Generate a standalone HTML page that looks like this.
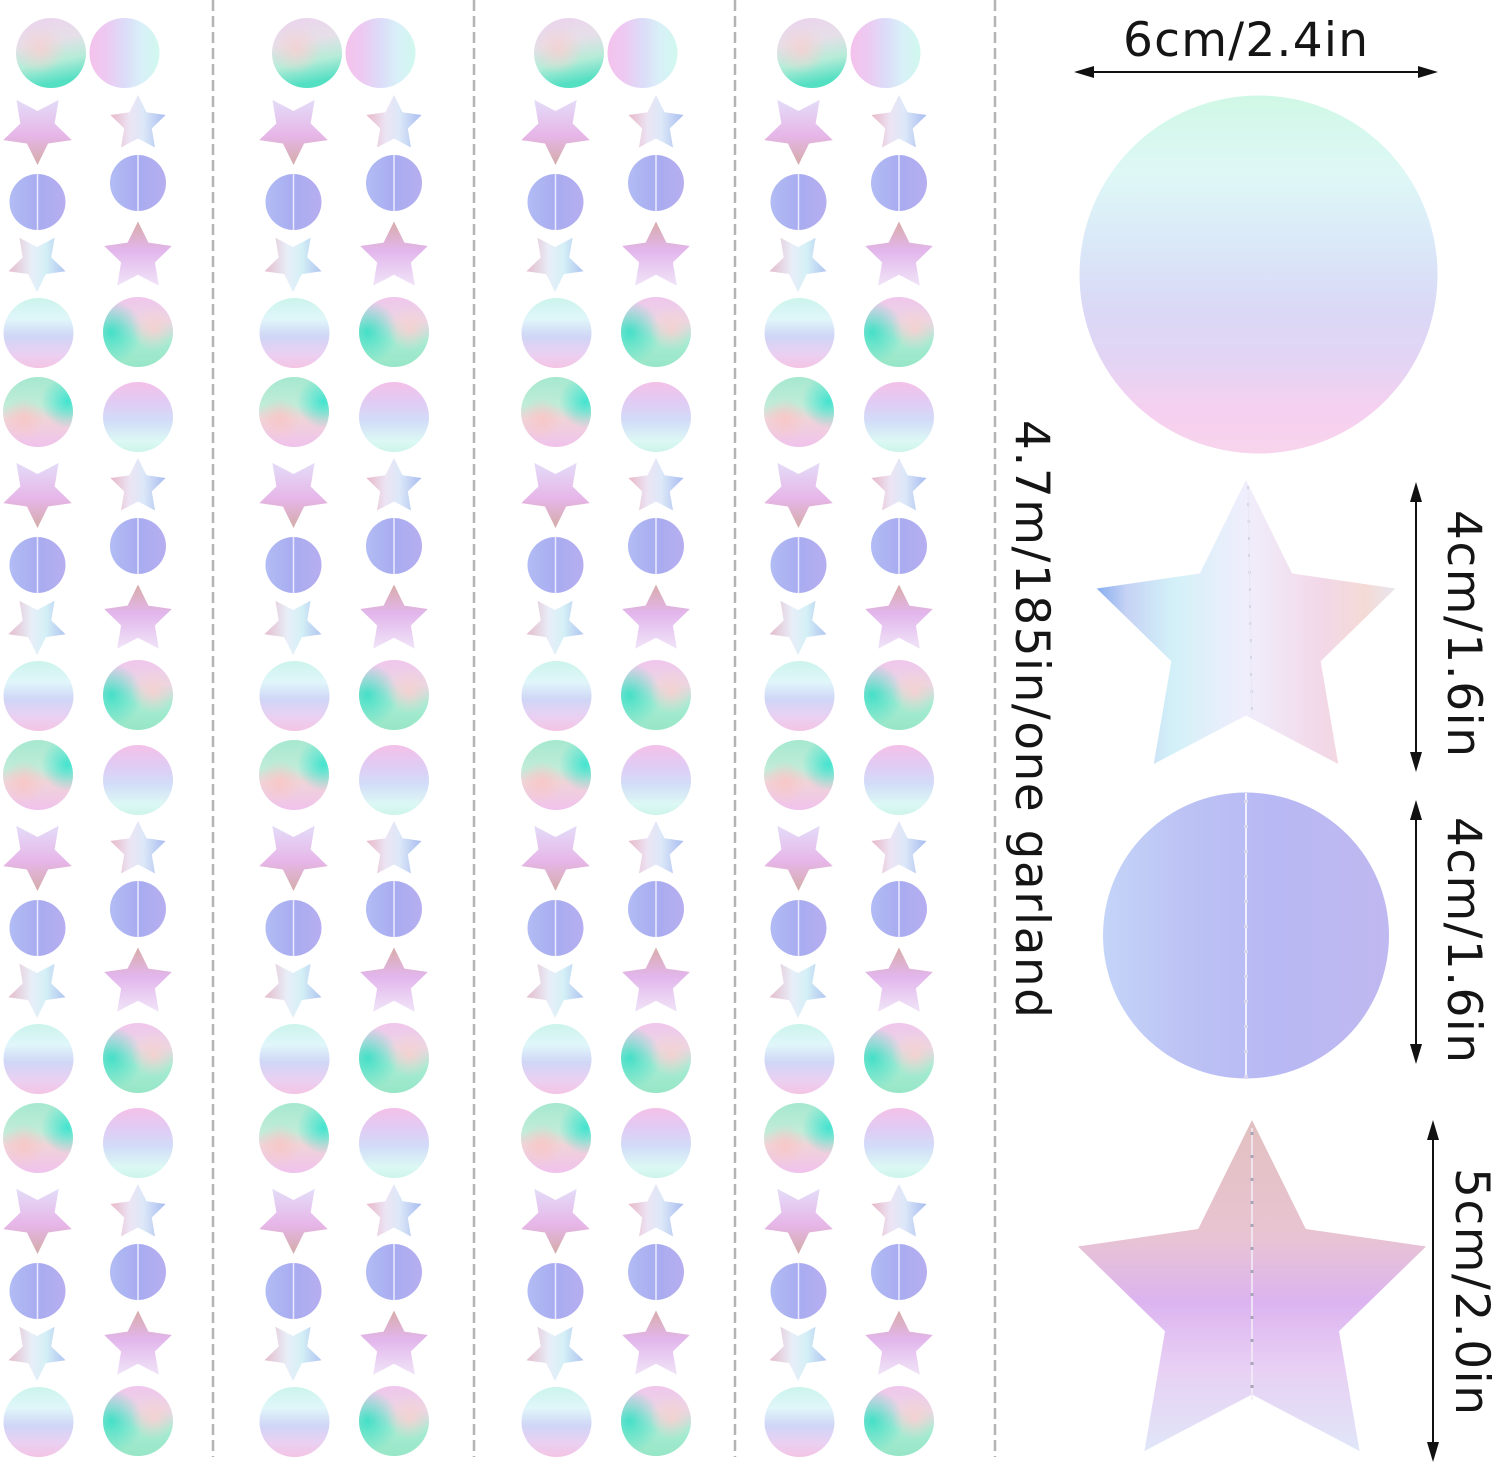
<!DOCTYPE html>
<html>
<head>
<meta charset="utf-8">
<style>
html,body{margin:0;padding:0;background:#fff;}
svg{display:block;}
text{font-family:"DejaVu Sans","Liberation Sans",sans-serif;fill:#151515;}
</style>
</head>
<body>
<svg width="1500" height="1468" viewBox="0 0 1500 1468" xmlns="http://www.w3.org/2000/svg" xmlns:xlink="http://www.w3.org/1999/xlink">
<defs>
  <polygon id="st" points="0,-1 0.2939,-0.4045 0.9511,-0.309 0.4755,0.1545 0.5878,0.809 0,0.5 -0.5878,0.809 -0.4755,0.1545 -0.9511,-0.309 -0.2939,-0.4045"/>

  <linearGradient id="gA" x1="0" y1="0" x2="0.2" y2="1">
    <stop offset="0" stop-color="#ecd2ee"/><stop offset="0.4" stop-color="#e6dfe8"/>
    <stop offset="0.7" stop-color="#b6ecd8"/><stop offset="1" stop-color="#52dfc2"/>
  </linearGradient>
  <radialGradient id="gA2" cx="0.35" cy="0.45" r="0.35">
    <stop offset="0" stop-color="#f8cfd0" stop-opacity="0.8"/><stop offset="1" stop-color="#f8cfd0" stop-opacity="0"/>
  </radialGradient>
  <linearGradient id="gB" x1="0" y1="0" x2="1" y2="0">
    <stop offset="0" stop-color="#f4c2ec"/><stop offset="0.25" stop-color="#eccaf2"/>
    <stop offset="0.5" stop-color="#dcdcf8"/><stop offset="0.75" stop-color="#d8f0f8"/>
    <stop offset="1" stop-color="#d0f8ee"/>
  </linearGradient>
  <linearGradient id="gC" x1="0" y1="0" x2="0" y2="1">
    <stop offset="0" stop-color="#ccf4ec"/><stop offset="0.3" stop-color="#e0f6fa"/>
    <stop offset="0.55" stop-color="#d0d6f6"/><stop offset="0.8" stop-color="#ead0f2"/>
    <stop offset="1" stop-color="#f4c4e4"/>
  </linearGradient>
  <linearGradient id="gD" x1="0" y1="0" x2="0" y2="1">
    <stop offset="0" stop-color="#f0c6ec"/><stop offset="0.35" stop-color="#ead6e4"/>
    <stop offset="0.6" stop-color="#a8ecd4"/><stop offset="1" stop-color="#96e6c6"/>
  </linearGradient>
  <radialGradient id="gD2" cx="0.12" cy="0.5" r="0.45">
    <stop offset="0" stop-color="#3edfc6" stop-opacity="0.95"/><stop offset="1" stop-color="#3edfc6" stop-opacity="0"/>
  </radialGradient>
  <radialGradient id="gD3" cx="0.72" cy="0.45" r="0.32">
    <stop offset="0" stop-color="#f8d0d0" stop-opacity="0.9"/><stop offset="1" stop-color="#f8d0d0" stop-opacity="0"/>
  </radialGradient>
  <linearGradient id="gE" x1="0" y1="0" x2="0" y2="1">
    <stop offset="0" stop-color="#a6e8d0"/><stop offset="0.4" stop-color="#c0ecd8"/>
    <stop offset="0.6" stop-color="#f0d4d8"/><stop offset="1" stop-color="#f0c2ec"/>
  </linearGradient>
  <radialGradient id="gE2" cx="0.92" cy="0.35" r="0.38">
    <stop offset="0" stop-color="#3ee3cf" stop-opacity="0.95"/><stop offset="1" stop-color="#3ee3cf" stop-opacity="0"/>
  </radialGradient>
  <radialGradient id="gE3" cx="0.3" cy="0.6" r="0.3">
    <stop offset="0" stop-color="#f8c6c6" stop-opacity="0.9"/><stop offset="1" stop-color="#f8c6c6" stop-opacity="0"/>
  </radialGradient>
  <linearGradient id="gF" x1="0" y1="0" x2="0" y2="1">
    <stop offset="0" stop-color="#f4c0e8"/><stop offset="0.3" stop-color="#e0ccf4"/>
    <stop offset="0.55" stop-color="#d2dcf8"/><stop offset="0.85" stop-color="#dcf8f4"/>
    <stop offset="1" stop-color="#ccf4ea"/>
  </linearGradient>
  <linearGradient id="gL" x1="0" y1="0" x2="1" y2="0">
    <stop offset="0" stop-color="#b2bcf4"/><stop offset="0.5" stop-color="#a8acf0"/>
    <stop offset="1" stop-color="#b6aef0"/>
  </linearGradient>

  <linearGradient id="gSL" x1="0" y1="0" x2="0" y2="1">
    <stop offset="0" stop-color="#d4aca8"/><stop offset="0.45" stop-color="#e6b6e8"/>
    <stop offset="1" stop-color="#e4dcf8"/>
  </linearGradient>
  <linearGradient id="gSR" x1="0" y1="0" x2="1" y2="0">
    <stop offset="0" stop-color="#e8b8c8"/><stop offset="0.35" stop-color="#ece4f4"/>
    <stop offset="0.6" stop-color="#dce8f8"/><stop offset="1" stop-color="#a8bcf0"/>
  </linearGradient>
  <linearGradient id="gSLs" x1="0" y1="0" x2="1" y2="0">
    <stop offset="0" stop-color="#e4bccc"/><stop offset="0.4" stop-color="#e8eef8"/>
    <stop offset="0.65" stop-color="#d4f0f6"/><stop offset="1" stop-color="#b0c4f0"/>
  </linearGradient>
  <linearGradient id="gSRb" x1="0" y1="0" x2="0" y2="1">
    <stop offset="0" stop-color="#d8aca8"/><stop offset="0.45" stop-color="#e2b6ec"/>
    <stop offset="1" stop-color="#f0e4f8"/>
  </linearGradient>

  <linearGradient id="gBig" x1="0" y1="0" x2="0" y2="1">
    <stop offset="0" stop-color="#d0f8e6"/><stop offset="0.22" stop-color="#def8f6"/>
    <stop offset="0.42" stop-color="#dae8f8"/><stop offset="0.6" stop-color="#dad8f6"/>
    <stop offset="0.75" stop-color="#e4d4f4"/><stop offset="0.88" stop-color="#f6d0f0"/>
    <stop offset="1" stop-color="#f8d4ec"/>
  </linearGradient>
  <linearGradient id="gS1" x1="0" y1="0" x2="1" y2="0">
    <stop offset="0" stop-color="#86aef0"/><stop offset="0.1" stop-color="#c6d2f4"/>
    <stop offset="0.25" stop-color="#d2f0f8"/><stop offset="0.5" stop-color="#f0eefc"/>
    <stop offset="0.75" stop-color="#f2d8e8"/><stop offset="0.9" stop-color="#f4dad6"/>
    <stop offset="1" stop-color="#e8e6ee"/>
  </linearGradient>
  <linearGradient id="gC2" x1="0" y1="0" x2="1" y2="0">
    <stop offset="0" stop-color="#c4d4f8"/><stop offset="0.3" stop-color="#bcc2f4"/>
    <stop offset="0.6" stop-color="#b8b8f4"/><stop offset="1" stop-color="#c0b8f0"/>
  </linearGradient>
  <linearGradient id="gS2" x1="0" y1="0" x2="0" y2="1">
    <stop offset="0" stop-color="#e2c0c0"/><stop offset="0.35" stop-color="#e8c4d2"/>
    <stop offset="0.55" stop-color="#dcb4f0"/><stop offset="0.75" stop-color="#e8d0f4"/>
    <stop offset="1" stop-color="#e0e6f8"/>
  </linearGradient>

  <g id="blk">
    <use xlink:href="#st" href="#st" transform="translate(37.5 129) scale(36 -36)" fill="url(#gSL)"/>
    <use xlink:href="#st" href="#st" transform="translate(138 124) scale(29)" fill="url(#gSR)"/>
    <circle cx="37.5" cy="202" r="28" fill="url(#gL)"/>
    <line x1="37.5" y1="174" x2="37.5" y2="230" stroke="#ebe9ff" stroke-width="1.5"/>
    <circle cx="138" cy="183" r="28" fill="url(#gL)"/>
    <line x1="138" y1="155" x2="138" y2="211" stroke="#ebe9ff" stroke-width="1.5"/>
    <use xlink:href="#st" href="#st" transform="translate(37 262) scale(30 -30)" fill="url(#gSLs)"/>
    <use xlink:href="#st" href="#st" transform="translate(138 257) scale(35.5)" fill="url(#gSRb)"/>
    <circle cx="38.5" cy="333" r="35" fill="url(#gC)"/>
    <circle cx="138" cy="332" r="35" fill="url(#gD)"/>
    <circle cx="138" cy="332" r="35" fill="url(#gD2)"/>
    <circle cx="138" cy="332" r="35" fill="url(#gD3)"/>
  </g>
  <g id="ef">
    <circle cx="38" cy="412" r="35" fill="url(#gE)"/>
    <circle cx="38" cy="412" r="35" fill="url(#gE2)"/>
    <circle cx="38" cy="412" r="35" fill="url(#gE3)"/>
    <circle cx="138" cy="417" r="35" fill="url(#gF)"/>
  </g>
  <g id="col">
    <circle cx="51" cy="53" r="35" fill="url(#gA)"/>
    <circle cx="51" cy="53" r="35" fill="url(#gA2)"/>
    <circle cx="124.5" cy="53" r="35" fill="url(#gB)"/>
    <use xlink:href="#blk" href="#blk"/>
    <use xlink:href="#blk" href="#blk" transform="translate(0 363)"/>
    <use xlink:href="#blk" href="#blk" transform="translate(0 726)"/>
    <use xlink:href="#blk" href="#blk" transform="translate(0 1089)"/>
    <use xlink:href="#ef" href="#ef"/>
    <use xlink:href="#ef" href="#ef" transform="translate(0 363)"/>
    <use xlink:href="#ef" href="#ef" transform="translate(0 726)"/>
  </g>
</defs>

<rect width="1500" height="1468" fill="#fff"/>

<use xlink:href="#col" href="#col"/>
<use xlink:href="#col" href="#col" transform="translate(256 0)"/>
<use xlink:href="#col" href="#col" transform="translate(518 0)"/>
<use xlink:href="#col" href="#col" transform="translate(761 0)"/>

<g stroke="#b4b4b4" stroke-width="2.5" stroke-dasharray="11 5">
  <line x1="213" y1="0" x2="213" y2="1457"/>
  <line x1="474" y1="0" x2="474" y2="1457"/>
  <line x1="735" y1="0" x2="735" y2="1457"/>
  <line x1="995" y1="0" x2="995" y2="1457"/>
</g>

<circle cx="1258.5" cy="274.5" r="179" fill="url(#gBig)"/>

<use xlink:href="#st" href="#st" transform="translate(1246 637) scale(157)" fill="url(#gS1)"/>
<line x1="1248" y1="486" x2="1252" y2="715" stroke="#9aa0b4" stroke-width="1.5" stroke-dasharray="3 14"/>
<line x1="1248" y1="486" x2="1252" y2="715" stroke="#e8e8f4" stroke-width="1"/>

<circle cx="1246" cy="935.5" r="143" fill="url(#gC2)"/>
<line x1="1246" y1="793" x2="1246" y2="1078" stroke="#f2f0ff" stroke-width="2"/>
<line x1="1246" y1="800" x2="1246" y2="1078" stroke="#d8d6ee" stroke-width="4" stroke-dasharray="3 22"/>

<use xlink:href="#st" href="#st" transform="translate(1252 1303) scale(183)" fill="url(#gS2)"/>
<line x1="1252" y1="1128" x2="1252" y2="1400" stroke="#f4eef8" stroke-width="1.5"/>
<line x1="1252" y1="1132" x2="1252" y2="1400" stroke="#a8a4b8" stroke-width="3" stroke-dasharray="3 20"/>

<g stroke="#111" stroke-width="2">
  <line x1="1088" y1="72" x2="1424" y2="72"/>
  <line x1="1416" y1="496" x2="1416" y2="758"/>
  <line x1="1416" y1="814" x2="1416" y2="1050"/>
  <line x1="1433" y1="1134" x2="1433" y2="1448"/>
</g>
<g fill="#111">
  <polygon points="1074,72 1094,66 1094,78"/>
  <polygon points="1438,72 1418,66 1418,78"/>
  <polygon points="1416,482 1410,502 1422,502"/>
  <polygon points="1416,772 1410,752 1422,752"/>
  <polygon points="1416,800 1410,820 1422,820"/>
  <polygon points="1416,1064 1410,1044 1422,1044"/>
  <polygon points="1433,1120 1427,1140 1439,1140"/>
  <polygon points="1433,1462 1427,1442 1439,1442"/>
</g>

<text x="1123" y="56" font-size="47" textLength="245" lengthAdjust="spacing">6cm/2.4in</text>
<text transform="translate(1016 420) rotate(90)" font-size="47" textLength="598" lengthAdjust="spacing">4.7m/185in/one garland</text>
<text transform="translate(1448 510) rotate(90)" font-size="47" textLength="247" lengthAdjust="spacing">4cm/1.6in</text>
<text transform="translate(1448 817) rotate(90)" font-size="47" textLength="246" lengthAdjust="spacing">4cm/1.6in</text>
<text transform="translate(1456 1168) rotate(90)" font-size="47" textLength="247" lengthAdjust="spacing">5cm/2.0in</text>
</svg>
</body>
</html>
